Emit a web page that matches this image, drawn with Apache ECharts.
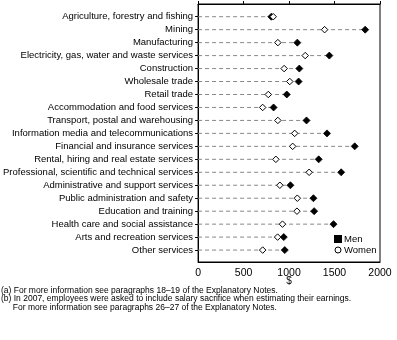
<!DOCTYPE html>
<html>
<head>
<meta charset="utf-8">
<script src="https://cdn.jsdelivr.net/npm/echarts@6/dist/echarts.min.js"></script>
<style>
  html, body { margin: 0; padding: 0; background: #fff; }
  #chart { width: 397px; height: 340px; }
</style>
</head>
<body>
<div id="chart"></div>
<script>
// Industries, top to bottom
const industries = [
  'Agriculture, forestry and fishing',
  'Mining',
  'Manufacturing',
  'Electricity, gas, water and waste services',
  'Construction',
  'Wholesale trade',
  'Retail trade',
  'Accommodation and food services',
  'Transport, postal and warehousing',
  'Information media and telecommunications',
  'Financial and insurance services',
  'Rental, hiring and real estate services',
  'Professional, scientific and technical services',
  'Administrative and support services',
  'Public administration and safety',
  'Education and training',
  'Health care and social assistance',
  'Arts and recreation services',
  'Other services'
];

// Average weekly earnings ($)
const men = [805, 1837, 1091, 1443, 1113, 1105, 975, 830, 1192, 1417,
             1722, 1326, 1573, 1015, 1268, 1276, 1489, 942, 953];
const women = [826, 1391, 877, 1178, 946, 1008, 772, 710, 877, 1062,
               1040, 855, 1221, 899, 1091, 1087, 928, 874, 710];

const xTicks = [0, 500, 1000, 1500, 2000];

const footnotes = [
  '(a) For more information see paragraphs 18\u201319 of the Explanatory Notes.',
  '(b) In 2007, employees were asked to include salary sacrifice when estimating their earnings.',
  '     For more information see paragraphs 26\u201327 of the Explanatory Notes.'
];

const FONT = '"Liberation Sans Narrow", "Liberation Sans", Arial, sans-serif';

const rowIdx = industries.map((_, i) => i);
const guideData = rowIdx.map(i => [Math.max(men[i], women[i]), i]);
const menData = rowIdx.map(i => [men[i], i]);
const womenData = rowIdx.map(i => [women[i], i]);

const chart = echarts.init(document.getElementById('chart'), null, { renderer: 'canvas' });

chart.setOption({
  animation: false,
  backgroundColor: '#fff',
  textStyle: { fontFamily: FONT, color: '#000' },
  grid: {
    left: 196, right: 17, top: 4, bottom: 78,
    show: true, borderColor: '#000', borderWidth: 1, backgroundColor: 'transparent'
  },
  xAxis: [
    {
      type: 'value', position: 'bottom', min: 0, max: 2000, interval: 500,
      name: '$', nameLocation: 'middle', nameGap: 14, nameMoveOverlap: false,
      nameTextStyle: { fontFamily: 'Liberation Sans, sans-serif', fontSize: 10, color: '#000' },
      axisLine: { show: true, onZero: false, lineStyle: { color: '#000', width: 1 } },
      axisTick: { show: false },
      axisLabel: {
        margin: 6, fontFamily: 'Liberation Sans, sans-serif', fontSize: 10.5, color: '#000',
        customValues: xTicks,
        formatter: v => String(v)
      },
      splitLine: { show: false }
    },
    {
      type: 'value', position: 'top', min: 0, max: 2000, interval: 500,
      axisLine: { show: true, onZero: false, lineStyle: { color: '#000', width: 1 } },
      axisTick: { show: true, inside: false, length: 3, lineStyle: { color: '#000' } },
      axisLabel: { show: false },
      splitLine: { show: false }
    }
  ],
  yAxis: {
    type: 'value', inverse: true, min: -0.98, max: 18.92,
    axisLine: { show: true, onZero: false, lineStyle: { color: '#000', width: 1 } },
    axisTick: { show: true, length: 3, lineStyle: { color: '#000' }, customValues: rowIdx },
    axisLabel: {
      margin: 5, fontFamily: FONT, fontSize: 9.5, color: '#000',
      customValues: rowIdx,
      formatter: v => industries[Math.round(v)] || ''
    },
    splitLine: { show: false }
  },
  legend: {
    orient: 'vertical', left: 334, top: 234, padding: 0,
    itemWidth: 6, itemHeight: 6, itemGap: 1,
    textStyle: { fontFamily: FONT, fontSize: 9.5, lineHeight: 10, color: '#000', padding: [0, 0, 0, -2] },
    data: [
      { name: 'Men', icon: 'rect', itemStyle: { color: '#000' } },
      { name: 'Women', icon: 'circle', itemStyle: { color: '#fff', borderColor: '#000', borderWidth: 1 } }
    ]
  },
  series: [
    {
      // dashed guide from zero to the larger value in each row
      type: 'custom',
      name: 'guide',
      silent: true,
      data: guideData,
      encode: { x: 0, y: 1 },
      renderItem: function (params, api) {
        const start = api.coord([0, api.value(1)]);
        const end = api.coord([api.value(0), api.value(1)]);
        return {
          type: 'line',
          shape: { x1: start[0], y1: start[1], x2: end[0], y2: end[1] },
          style: { stroke: '#888', lineWidth: 1, lineDash: [4, 3] }
        };
      },
      z: 1
    },
    {
      type: 'scatter', name: 'Men', data: menData,
      symbol: 'diamond', symbolSize: 7,
      itemStyle: { color: '#000', borderColor: '#000', borderWidth: 0.8, opacity: 1 },
      z: 3
    },
    {
      type: 'scatter', name: 'Women', data: womenData,
      symbol: 'diamond', symbolSize: 6.5,
      itemStyle: { color: '#fff', borderColor: '#000', borderWidth: 1, opacity: 1 },
      z: 4
    }
  ],
  graphic: footnotes.map((t, i) => ({
    type: 'text', left: 1, top: 286 + i * 8.5,
    style: { text: t, font: '8.5px ' + FONT, fill: '#000' }
  }))
});
</script>
</body>
</html>
